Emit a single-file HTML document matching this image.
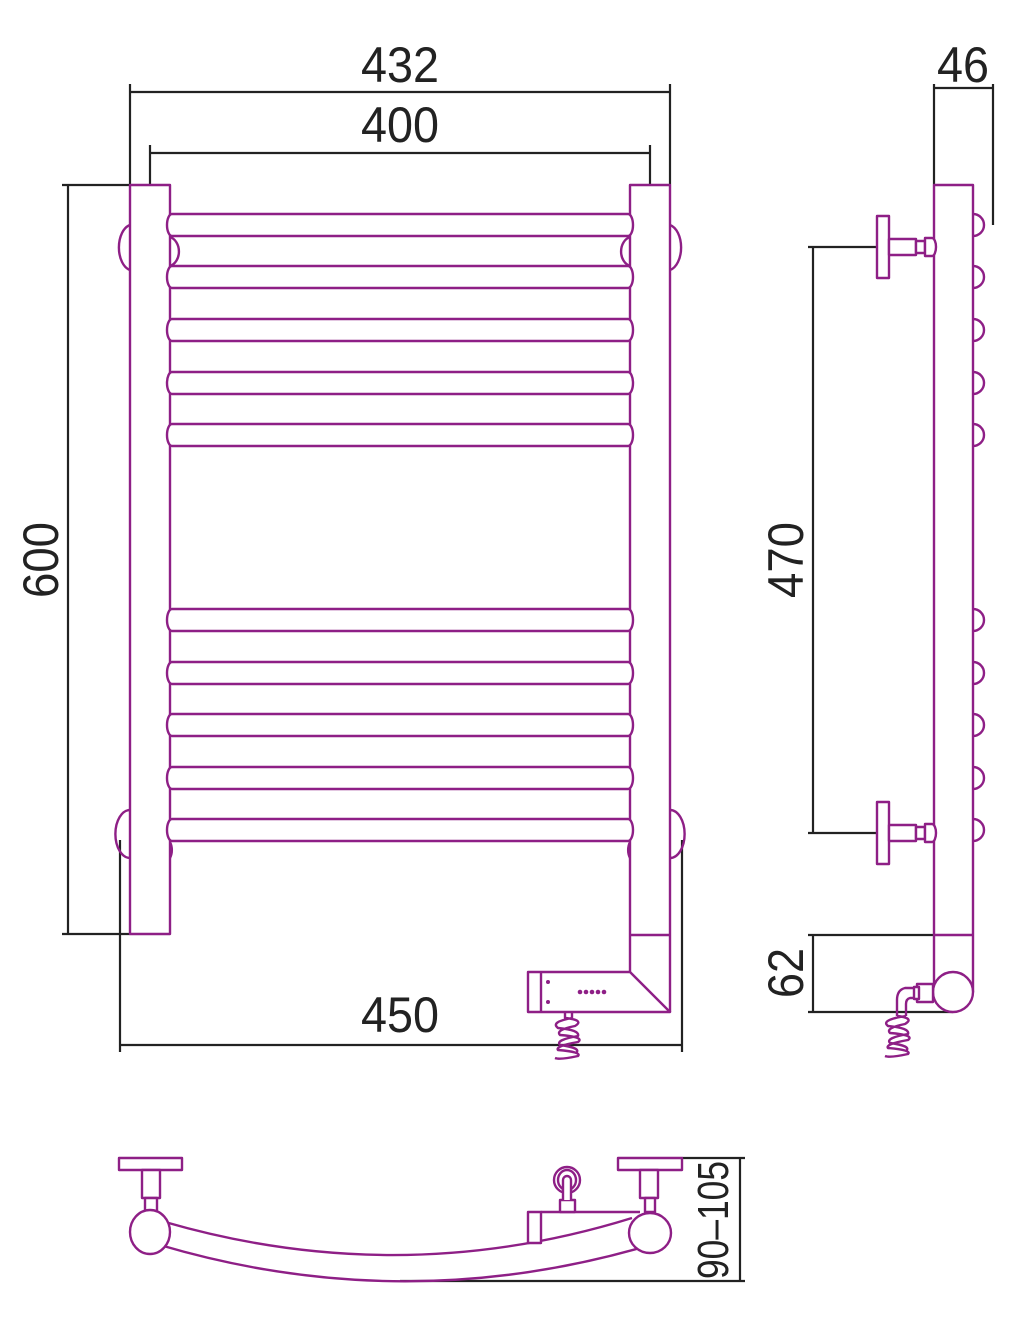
<!DOCTYPE html>
<html><head><meta charset="utf-8"><style>
html,body{margin:0;padding:0;background:#fff;}
svg{display:block;}
text{font-family:"Liberation Sans",sans-serif;fill:#222;font-size:50px;}
</style></head><body>
<svg width="1013" height="1326" viewBox="0 0 1013 1326" xmlns="http://www.w3.org/2000/svg">
<g fill="none" stroke="#222" stroke-width="2.2">
<line x1="130" y1="92" x2="670" y2="92"/>
<line x1="130" y1="84" x2="130" y2="185"/>
<line x1="670" y1="84" x2="670" y2="185"/>
<line x1="150" y1="153" x2="650" y2="153"/>
<line x1="150" y1="145" x2="150" y2="185"/>
<line x1="650" y1="145" x2="650" y2="185"/>
<line x1="68" y1="185" x2="68" y2="934"/>
<line x1="62" y1="185" x2="130" y2="185"/>
<line x1="62" y1="934" x2="130" y2="934"/>
<line x1="120" y1="1045" x2="682" y2="1045"/>
<line x1="120" y1="840" x2="120" y2="1052"/>
<line x1="682" y1="840" x2="682" y2="1052"/>
<line x1="934" y1="88" x2="993" y2="88"/>
<line x1="934" y1="84" x2="934" y2="185"/>
<line x1="993" y1="84" x2="993" y2="225"/>
<line x1="813" y1="247" x2="813" y2="833"/>
<line x1="808" y1="247" x2="877" y2="247"/>
<line x1="808" y1="833" x2="877" y2="833"/>
<line x1="813" y1="935" x2="813" y2="1012"/>
<line x1="808" y1="935" x2="934" y2="935"/>
<line x1="808" y1="1012" x2="953" y2="1012"/>
<line x1="740" y1="1158" x2="740" y2="1281"/>
<line x1="682" y1="1158" x2="745" y2="1158"/>
<line x1="400" y1="1281" x2="745" y2="1281"/>
</g>
<text x="400" y="82" text-anchor="middle" textLength="78" lengthAdjust="spacingAndGlyphs">432</text>
<text x="400" y="142" text-anchor="middle" textLength="78" lengthAdjust="spacingAndGlyphs">400</text>
<text x="400" y="1032" text-anchor="middle" textLength="78" lengthAdjust="spacingAndGlyphs">450</text>
<text x="963" y="82" text-anchor="middle" textLength="52" lengthAdjust="spacingAndGlyphs">46</text>
<text transform="translate(58,560) rotate(-90)" text-anchor="middle" textLength="76" lengthAdjust="spacingAndGlyphs">600</text>
<text transform="translate(803,560) rotate(-90)" text-anchor="middle" textLength="76" lengthAdjust="spacingAndGlyphs">470</text>
<text transform="translate(803,973) rotate(-90)" text-anchor="middle" textLength="50" lengthAdjust="spacingAndGlyphs">62</text>
<text transform="translate(728,1220) rotate(-90)" text-anchor="middle" textLength="118" lengthAdjust="spacingAndGlyphs" style="font-size:44px">90–105</text>

<g fill="none" stroke="#8e1f86" stroke-width="2.4" stroke-linejoin="round">
<path d="M130 225 A14 23 0 0 0 130 270"/>
<path d="M670 225 A14 23 0 0 1 670 270"/>
<path d="M130 810 A14 23 0 0 0 130 858"/>
<path d="M670 810 A14 23 0 0 1 670 858"/>
<path d="M170 237 A12 15 0 0 1 170 266"/>
<path d="M630 237 A12 15 0 0 0 630 266"/>
<path d="M170 842 A12 15 0 0 1 170 858"/>
<path d="M630 842 A12 15 0 0 0 630 858"/>
<rect x="130" y="185" width="40" height="749" fill="#fff"/>
<path d="M630 972 V185 H670 V1012" fill="#fff"/>
<line x1="630" y1="935" x2="670" y2="935"/>
<g fill="#fff">
<path d="M172 214 H628 A5 11 0 0 1 628 236 H172 A5 11 0 0 1 172 214Z"/>
<path d="M172 266 H628 A5 11 0 0 1 628 288 H172 A5 11 0 0 1 172 266Z"/>
<path d="M172 319 H628 A5 11 0 0 1 628 341 H172 A5 11 0 0 1 172 319Z"/>
<path d="M172 372 H628 A5 11 0 0 1 628 394 H172 A5 11 0 0 1 172 372Z"/>
<path d="M172 424 H628 A5 11 0 0 1 628 446 H172 A5 11 0 0 1 172 424Z"/>
<path d="M172 609 H628 A5 11 0 0 1 628 631 H172 A5 11 0 0 1 172 609Z"/>
<path d="M172 662 H628 A5 11 0 0 1 628 684 H172 A5 11 0 0 1 172 662Z"/>
<path d="M172 714 H628 A5 11 0 0 1 628 736 H172 A5 11 0 0 1 172 714Z"/>
<path d="M172 767 H628 A5 11 0 0 1 628 789 H172 A5 11 0 0 1 172 767Z"/>
<path d="M172 819 H628 A5 11 0 0 1 628 841 H172 A5 11 0 0 1 172 819Z"/>
</g>
<path d="M528 972 H630 L670 1012 H528 Z" fill="#fff"/>
<line x1="541" y1="972" x2="541" y2="1012"/>
<g fill="#8e1f86" stroke="none">
<circle cx="548" cy="982" r="2"/><circle cx="548" cy="1002" r="2"/>
<circle cx="580" cy="992" r="2.3"/><circle cx="586" cy="992" r="2.3"/><circle cx="592" cy="992" r="2.3"/><circle cx="598" cy="992" r="2.3"/><circle cx="604" cy="992" r="2.3"/>
</g>
<path d="M565 1012 V1018 Q585 1020 575 1026 Q555 1030 560 1035 Q585 1037 578 1042 Q555 1046 558 1050 Q582 1052 578 1056 Q560 1060 555 1058 M572 1012 V1018 Q550 1022 558 1028 Q580 1030 578 1036 Q555 1040 560 1045 Q582 1048 576 1053"/>

<g fill="#fff">
<path d="M973 214 A11 11 0 0 1 973 236"/>
<path d="M973 266 A11 11 0 0 1 973 288"/>
<path d="M973 319 A11 11 0 0 1 973 341"/>
<path d="M973 372 A11 11 0 0 1 973 394"/>
<path d="M973 424 A11 11 0 0 1 973 446"/>
<path d="M973 609 A11 11 0 0 1 973 631"/>
<path d="M973 662 A11 11 0 0 1 973 684"/>
<path d="M973 714 A11 11 0 0 1 973 736"/>
<path d="M973 767 A11 11 0 0 1 973 789"/>
<path d="M973 819 A11 11 0 0 1 973 841"/>
<rect x="934" y="185" width="39" height="807"/>
<line x1="934" y1="935" x2="973" y2="935"/>
<circle cx="953" cy="992" r="20"/>
<rect x="877" y="216" width="12" height="62"/>
<rect x="889" y="239" width="27" height="16"/>
<rect x="916" y="241" width="9" height="12"/>
<path d="M925 238 H932 A4 9 0 0 1 932 256 H925Z"/>
<rect x="877" y="802" width="12" height="62"/>
<rect x="889" y="825" width="27" height="16"/>
<rect x="916" y="827" width="9" height="12"/>
<path d="M925 824 H932 A4 9 0 0 1 932 842 H925Z"/>
<rect x="917" y="984" width="16" height="18"/>
<rect x="914" y="987" width="5" height="12"/>
</g>
<path d="M914 988 H905 Q897 990 897 1000 V1016 M914 998 H910 Q906 999 906 1004 V1016"/>
<path d="M897 1016 Q915 1018 905 1024 Q885 1028 890 1033 Q915 1035 908 1040 Q885 1044 888 1048 Q912 1050 908 1054 Q890 1058 885 1056 M906 1016 Q880 1020 888 1026 Q910 1028 908 1034 Q885 1038 890 1043 Q912 1046 906 1051"/>

<!-- bottom view -->
<path d="M165 1222 Q400 1290 632 1218"/>
<path d="M160 1245 Q400 1316 640 1248"/>
<g fill="#fff">
<rect x="528" y="1212" width="13" height="31"/>
<line x1="541" y1="1212" x2="640" y2="1212"/>
<rect x="119" y="1158" width="63" height="12"/>
<rect x="142" y="1170" width="18" height="28"/>
<rect x="145" y="1198" width="12" height="13"/>
<rect x="618" y="1158" width="64" height="12"/>
<rect x="640" y="1170" width="18" height="28"/>
<rect x="645" y="1198" width="10" height="14"/>
<path d="M560 1200 H575 V1212 H560 Z"/>
<circle cx="567" cy="1180" r="13"/>
<ellipse cx="567" cy="1180" rx="9" ry="10"/>
<path d="M563 1200 V1180 A4 4 0 0 1 571 1180 V1200"/>
<ellipse cx="150" cy="1232" rx="20" ry="22"/>
<ellipse cx="650" cy="1233" rx="21" ry="20"/>
</g>
</g>
</svg>
</body></html>
